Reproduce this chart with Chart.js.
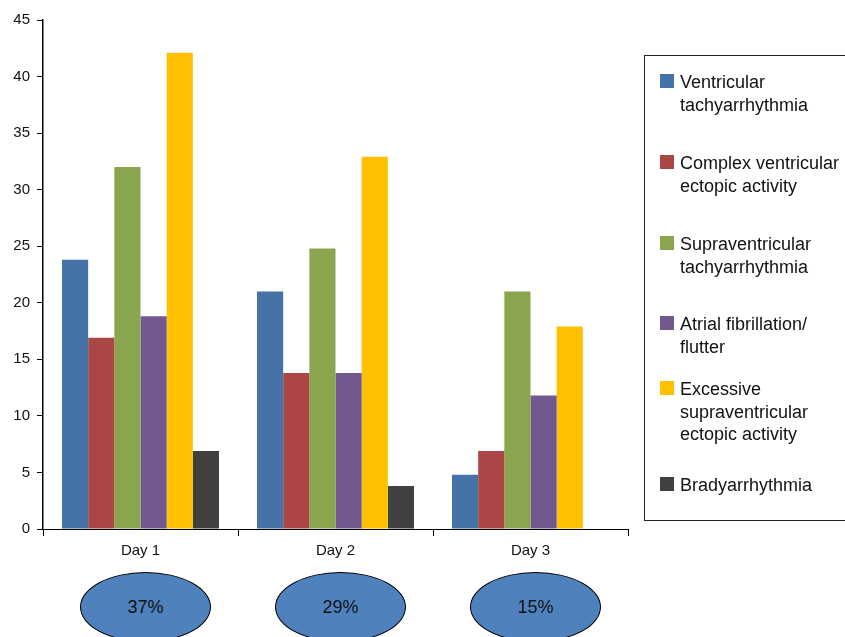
<!DOCTYPE html>
<html>
<head>
<meta charset="utf-8">
<script src="https://cdn.jsdelivr.net/npm/chart.js@4/dist/chart.umd.min.js"></script>
<style>
  body { margin: 0; background: #fff; }
  #wrap { position: relative; width: 845px; height: 637px; overflow: hidden; font-family: "Liberation Sans", Arial, sans-serif; }
  #grafico { position: absolute; left: 0; top: 0; }
  /* leyenda */
  #leyenda { position: absolute; left: 644px; top: 55px; width: 210px; height: 466px; border: 1.5px solid #222; box-sizing: border-box; }
  .item { position: absolute; left: 15px; display: flex; font-size: 18px; line-height: 22.5px; color: #111; white-space: nowrap; }
  .caja { width: 14px; height: 14px; margin-top: 3px; margin-right: 6px; flex: none; }
  /* elipses */
  .elipse { position: absolute; width: 131px; height: 70px; border: 1.5px solid #000; border-radius: 50%; background: #4f81bd;
            box-sizing: border-box; display: flex; align-items: center; justify-content: center; font-size: 18px; color: #111; }
</style>
</head>
<body>
<div id="wrap">
  <canvas id="grafico" width="845" height="637"></canvas>
  <div id="leyenda"></div>
</div>
<script>
// Datos del gráfico
const dias = ["Day 1", "Day 2", "Day 3"];
const ventricularTachy = [23.8, 21, 4.8];
const complexVentricular = [16.9, 13.8, 6.9];
const supraventricularTachy = [32, 24.8, 21];
const atrialFib = [18.8, 13.8, 11.8];
const excessiveSupra = [42.1, 32.9, 17.9];
const bradyarrhythmia = [6.9, 3.8, 0];
const porcentajes = ["37%", "29%", "15%"];

const etiquetas = [
  ["Ventricular", "tachyarrhythmia"],
  ["Complex ventricular", "ectopic activity"],
  ["Supraventricular", "tachyarrhythmia"],
  ["Atrial fibrillation/", "flutter"],
  ["Excessive", "supraventricular", "ectopic activity"],
  ["Bradyarrhythmia"]
];
const colores = ["#4572a7", "#aa4643", "#89a54e", "#71588f", "#ffc000", "#404040"];
const series = [ventricularTachy, complexVentricular, supraventricularTachy, atrialFib, excessiveSupra, bradyarrhythmia];

// Posición vertical de cada entrada de la leyenda (dentro de la caja)
const topLeyenda = [15, 96, 177, 257, 322, 418];

const datasets = series.map((valores, i) => ({
  label: etiquetas[i].join(" "),
  data: valores,
  backgroundColor: colores[i],
  borderWidth: 0,
  barPercentage: 1,
  categoryPercentage: 0.805
}));

const fuente = { family: "'Liberation Sans', Arial, sans-serif", size: 15 };

// eslint-disable-next-line no-undef
const grafico = new Chart(document.getElementById("grafico"), {
  type: "bar",
  data: { labels: dias, datasets: datasets },
  options: {
    responsive: false,
    animation: false,
    layout: { padding: { left: 0, right: 217, top: 20, bottom: 0 } },
    plugins: { legend: { display: false }, tooltip: { enabled: false } },
    scales: {
      x: {
        grid: { drawOnChartArea: false, tickLength: 7, color: "#000", offset: true },
        border: { color: "#000", width: 1 },
        ticks: { color: "#111", font: fuente, padding: 6 },
        afterFit: (scale) => { scale.height = 108; }
      },
      y: {
        min: 0,
        max: 45,
        grid: { drawOnChartArea: false, tickLength: 6, color: "#000" },
        border: { color: "#000", width: 1.5 },
        ticks: { stepSize: 5, color: "#111", font: fuente, padding: 7 },
        afterFit: (scale) => { scale.width = 43; }
      }
    }
  }
});

// Leyenda en HTML
const leyenda = document.getElementById("leyenda");
etiquetas.forEach((lineas, i) => {
  const item = document.createElement("div");
  item.className = "item";
  item.style.top = topLeyenda[i] + "px";
  item.innerHTML = '<div class="caja" style="background:' + colores[i] + '"></div><div>' + lineas.join("<br>") + "</div>";
  leyenda.appendChild(item);
});

// Elipses con porcentajes, centradas bajo cada día
const xs = grafico.scales.x;
const wrap = document.getElementById("wrap");
porcentajes.forEach((texto, i) => {
  const el = document.createElement("div");
  el.className = "elipse";
  const cx = xs.getPixelForValue(i) + 5;
  el.style.left = (cx - 65.5) + "px";
  el.style.top = "572px";
  el.textContent = texto;
  wrap.appendChild(el);
});
</script>
</body>
</html>
